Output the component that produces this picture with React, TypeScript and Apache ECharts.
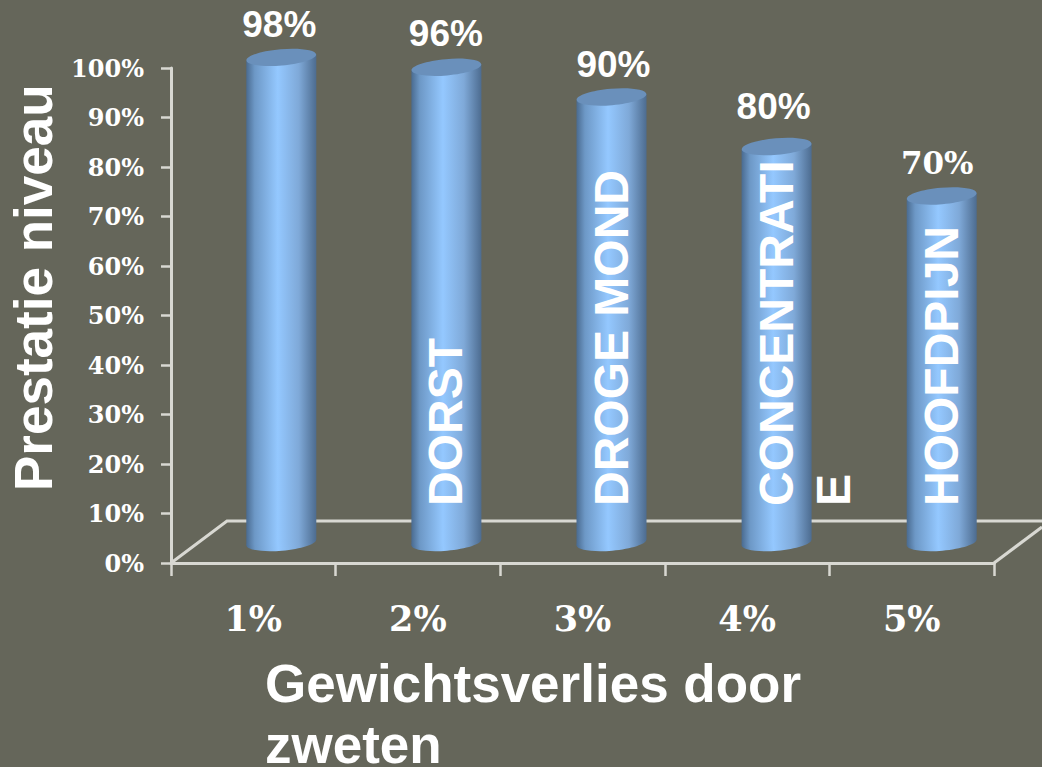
import React, { useEffect, useRef } from "react";
import * as echarts from "echarts";

const categories = ["1%", "2%", "3%", "4%", "5%"];
const performance = [98, 96, 90, 80, 70];
const symptoms = ["", "DORST", "DROGE MOND", "CONCENTRATI\nE", "HOOFDPIJN"];
const yAxisTitle = "Prestatie niveau";
const xAxisTitle = "Gewichtsverlies door\nzweten";

const SANS = '"Liberation Sans", Arial, sans-serif';
const SLAB = '"DejaVu Serif", serif';
const BG = "#65665a";
const LINE = "#d8d8d2";
const DX = 28, DY = -20.5, RX = 35, RY = 8.2, TILT = 3;
const labelNudge = [0, -1, 0, -7, 0];
const labelShift = [-2, -0.5, 2, -3, -4.5];

const bodyFill = () =>
  new echarts.graphic.LinearGradient(0, 0, 1, 0, [
    { offset: 0, color: "#4a6b90" },
    { offset: 0.12, color: "#6d98c6" },
    { offset: 0.45, color: "#94c8ff" },
    { offset: 0.75, color: "#7fa9d8" },
    { offset: 1, color: "#4d6c90" },
  ]);

const renderItem = (_p: any, api: any) => {
  const i = api.value(0);
  const top = api.coord([i, api.value(1)]);
  const base = api.coord([i, 0]);
  const cx = top[0] + DX + i * 0.5;
  const ty = top[1] + DY;
  const by = base[1] + DY;
  const tilt = Math.atan2(TILT, RX);
  const children: any[] = [
    {
      type: "ellipse", x: cx, y: by, rotation: tilt,
      shape: { cx: 0, cy: 0, rx: RX, ry: RY },
      style: { fill: bodyFill() },
    },
    {
      type: "polygon",
      shape: { points: [[cx - RX, ty + TILT], [cx + RX, ty - TILT], [cx + RX, by - TILT], [cx - RX, by + TILT]] },
      style: { fill: bodyFill() },
    },
    {
      type: "ellipse", x: cx, y: ty, rotation: tilt,
      shape: { cx: 0, cy: 0, rx: RX, ry: RY },
      style: { fill: "#6a90bb" },
    },
    {
      type: "text", x: cx + labelShift[i], y: ty - 33 + labelNudge[i],
      style: {
        text: `${performance[i]}%`, fill: "#fff", align: "center", verticalAlign: "middle",
        font: i === 4 ? `bold 31px ${SLAB}` : `bold 37px ${SANS}`,
      },
    },
  ];
  if (symptoms[i]) {
    children.push({
      type: "text", x: cx - 29, y: 506, rotation: Math.PI / 2,
      style: {
        text: symptoms[i], fill: "#fff", align: "left", verticalAlign: "top",
        font: `bold 48px ${SANS}`, lineHeight: 57,
      },
    });
  }
  return { type: "group", children };
};

export default function App() {
  const ref = useRef<HTMLDivElement>(null);
  useEffect(() => {
    document.body.style.margin = "0";
    document.body.style.background = BG;
    const chart = echarts.init(ref.current!, null, { renderer: "svg" });
    const lineStyle = { stroke: LINE, lineWidth: 3 };
    chart.setOption({
      animation: false,
      backgroundColor: BG,
      grid: { left: 171, top: 68, width: 823, height: 495 },
      xAxis: {
        type: "category", data: categories,
        axisLine: { lineStyle: { color: LINE, width: 3 } },
        axisTick: { show: true, length: 13, lineStyle: { color: LINE, width: 2.5 } },
        axisLabel: { color: "#fff", fontFamily: SLAB, fontWeight: "bold", fontSize: 35, margin: 38, interval: 0 },
      },
      yAxis: {
        type: "value", min: 0, max: 100, interval: 10,
        splitLine: { show: false },
        axisLine: { show: true, lineStyle: { color: LINE, width: 3 } },
        axisTick: { show: true, length: 10, lineStyle: { color: LINE, width: 2.5 } },
        axisLabel: { color: "#fff", fontFamily: SLAB, fontWeight: "bold", fontSize: 24, margin: 27, formatter: "{value}%" },
      },
      graphic: [
        { type: "polyline", z: 1, shape: { points: [[171, 563], [227, 521], [1042, 521]] }, style: { ...lineStyle, fill: "none" } },
        { type: "line", z: 1, shape: { x1: 994, y1: 563, x2: 1042, y2: 527 }, style: lineStyle },
        {
          type: "text", z: 10, x: 7, y: 491, rotation: Math.PI / 2,
          style: { text: yAxisTitle, fill: "#fff", font: `bold 53px ${SANS}`, align: "left", verticalAlign: "top" },
        },
        {
          type: "text", z: 10, x: 265, y: 653,
          style: { text: xAxisTitle, fill: "#fff", font: `bold 53px ${SANS}`, lineHeight: 61, align: "left", verticalAlign: "top" },
        },
      ],
      series: [
        {
          type: "custom", z: 5, clip: false,
          renderItem,
          encode: { x: 0, y: 1 },
          data: performance.map((v, i) => [i, v]),
        },
      ],
    });
    return () => chart.dispose();
  }, []);
  return <div ref={ref} style={{ width: 1042, height: 767 }} />;
}
